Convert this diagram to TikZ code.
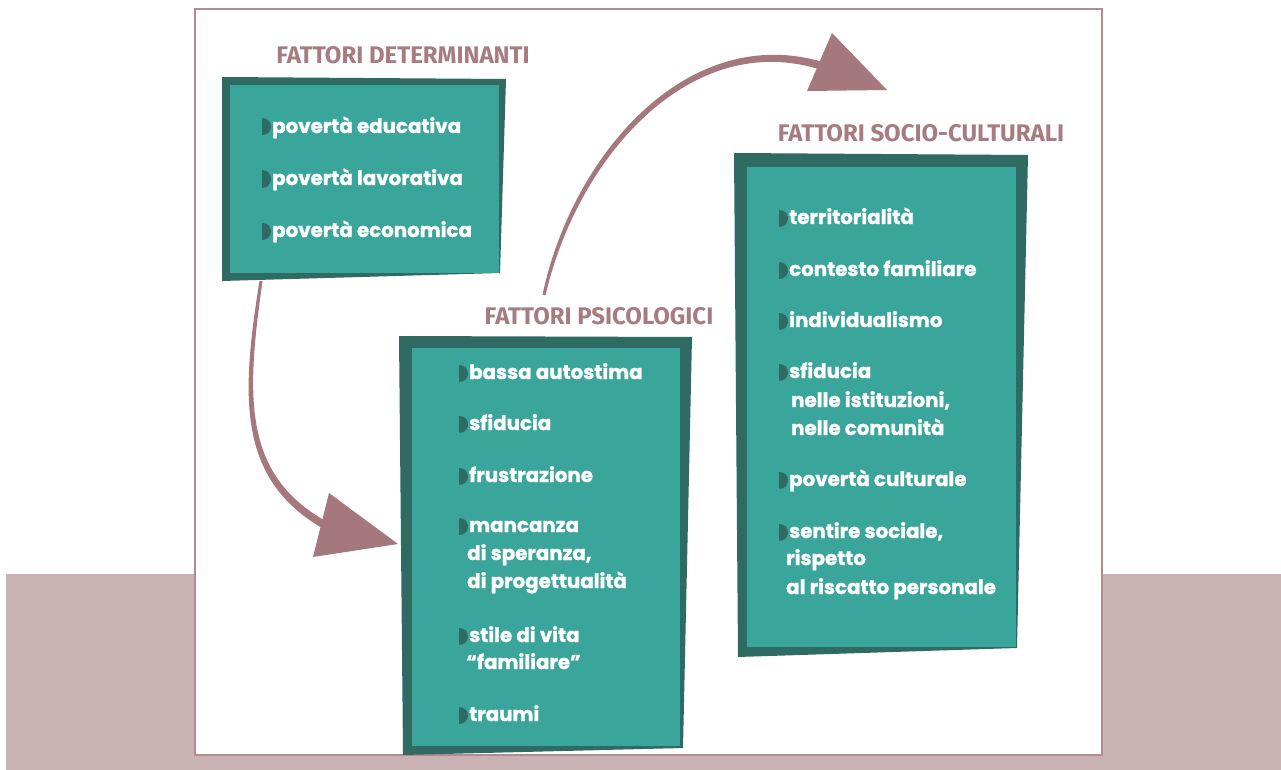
\documentclass[tikz,border=0pt]{standalone}
\usepackage{fontspec}
\setmainfont{Poppins}
\newfontfamily\itemfont{Poppins}[UprightFont={* Bold}, UprightFeatures={FakeBold=1.2}]
\newfontfamily\titlefont{Fira Sans}
\definecolor{band}{HTML}{C9B1B4}
\definecolor{framecol}{HTML}{B38C92}
\definecolor{mauve}{HTML}{A5787D}
\definecolor{titlecol}{HTML}{A67C80}
\definecolor{tealin}{HTML}{3AA59A}
\definecolor{tealdark}{HTML}{2F6B63}
\tikzset{
  item/.style={anchor=base west, inner sep=0pt, text=white, font=\itemfont\fontsize{19.8}{22}\selectfont},
  titletext/.style={anchor=base, inner sep=0pt, text=titlecol, font=\titlefont\bfseries\fontsize{24}{27}\selectfont},
  panel/.style={fill=tealin, inner sep=0pt, anchor=north west, draw=none},
  backpanel/.style={fill=tealdark},
  arrowbody/.style={fill=mauve},
  bul/.pic={\fill[tealdark] (0,-8.5) .. controls (12,-8.5) and (12,8.5) .. (0,8.5) -- cycle;}
}
\newcommand\litem[4]{\node[item] (#1) at (#2,#3) {#4};
  \pic at ([xshift=-10.5pt,yshift=6pt]#1.base west) {bul};}
\newcommand\lcont[4]{\node[item] (#1) at (#2,#3) {#4};}
\begin{document}
\begin{tikzpicture}[x=1pt,y=-1pt]
\useasboundingbox (0,0) rectangle (1281,770);
\fill[band] (6,574) rectangle (1281,770);
\draw[framecol, fill=white, line width=1.5pt] (195,9) rectangle (1102,755);

% arrows
\coordinate (a1s) at (261,281);
\coordinate (a1e) at (330,528);
\fill[arrowbody] (259.5,280.8) .. controls (240.5,399.7) and (237.1,482) .. (328.1,531.5)
   -- (331.9,524.5) .. controls (242.9,478) and (245.5,400.3) .. (262.5,281.2) -- cycle;
\fill[arrowbody] (329,493) -- (398,544) -- (313,557) -- cycle;
\coordinate (a2s) at (544,295);
\coordinate (a2e) at (822,66);
\fill[arrowbody] (545.5,295.3) .. controls (577.6,156.4) and (691.2,28.3) .. (820.8,69.8)
   -- (823.2,62.2) .. controls (688.8,21.7) and (572.4,153.6) .. (542.5,294.7) -- cycle;
\fill[arrowbody] (832,33) -- (887,90) -- (807,91) -- cycle;

% box 1
\fill[backpanel] (222,77) -- (506,79) -- (500,273) -- (222,281) -- cycle;
\node[panel, minimum width=269pt, minimum height=188pt] (b1) at (230,85) {};
% box 2
\fill[backpanel] (399,336) -- (692,337) -- (683,748) -- (403,755) -- cycle;
\node[panel, minimum width=268pt, minimum height=398pt] (b2) at (412,348) {};
% box 3
\fill[backpanel] (734,153) -- (1028,155) -- (1017,648) -- (738,657) -- cycle;
\node[panel, minimum width=269pt, minimum height=480pt] (b3) at (747,167) {};

% titles
\node[titletext] (t1) at (403,64) {FATTORI DETERMINANTI};
\node[titletext] (t2) at (599,324) {FATTORI PSICOLOGICI};
\node[titletext] (t3) at (921,142) {FATTORI SOCIO-CULTURALI};

% items box 1
\litem{d1}{272}{133}{povertà educativa}
\litem{d2}{272}{185}{povertà lavorativa}
\litem{d3}{272}{237}{povertà economica}
% items box 2
\litem{p1}{469}{379}{bassa autostima}
\litem{p2}{469}{430}{sfiducia}
\litem{p3}{469}{482}{frustrazione}
\litem{p4}{469}{532}{mancanza}
\lcont{p4b}{467}{560}{di speranza,}
\lcont{p4c}{467}{588}{di progettualità}
\litem{p5}{469}{642}{stile di vita}
\lcont{p5b}{466}{669}{“familiare”}
\litem{p6}{469}{721}{traumi}
% items box 3
\litem{s1}{789}{224}{territorialità}
\litem{s2}{789}{276}{contesto familiare}
\litem{s3}{789}{327}{individualismo}
\litem{s4}{789}{378}{sfiducia}
\lcont{s4b}{791}{407}{nelle istituzioni,}
\lcont{s4c}{791}{435}{nelle comunità}
\litem{s5}{789}{486}{povertà culturale}
\litem{s6}{789}{538}{sentire sociale,}
\lcont{s6b}{786}{565}{rispetto}
\lcont{s6c}{786}{594}{al riscatto personale}
\end{tikzpicture}
\end{document}
